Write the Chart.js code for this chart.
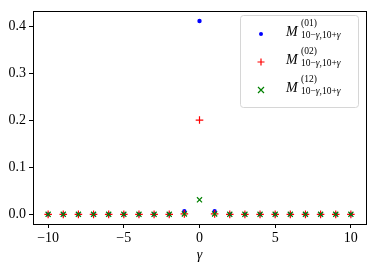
<!DOCTYPE html>
<html><head><meta charset="utf-8">
<script src="https://cdn.jsdelivr.net/npm/chart.js@4/dist/chart.umd.min.js"></script>
<style>html,body{margin:0;padding:0;background:#fff}#wrap{width:374px;height:269px}</style>
</head><body><div id="wrap"><canvas id="c" width="374" height="269"></canvas></div>
<script>
const gammas = [-10,-9,-8,-7,-6,-5,-4,-3,-2,-1,0,1,2,3,4,5,6,7,8,9,10];
const m01 = [0,0,0,0,0,0,0,0,0,0.0065,0.412,0.0065,0,0,0,0,0,0,0,0,0];
const m02 = [0,0,0,0,0,0,0,0,0,0.001,0.201,0.001,0,0,0,0,0,0,0,0,0];
const m12 = [0,0,0,0,0,0,0,0,0,0.0008,0.031,0.0008,0,0,0,0,0,0,0,0,0];
const xTicks = [-10,-5,0,5,10];
const yTicks = [0,0.1,0.2,0.3,0.4];
const legendSup = ['(01)','(02)','(12)'];
const serif = "'Liberation Serif', 'DejaVu Serif', serif";

function pts(arr){ return gammas.map((g,i)=>({x:g,y:arr[i]})); }

const framePlugin = {
  id:'frame',
  afterDatasetsDraw(chart){
    const a = chart.chartArea, ctx = chart.ctx;
    ctx.save();
    ctx.strokeStyle = '#000'; ctx.lineWidth = 1;
    ctx.strokeRect(Math.round(a.left)+0.5, Math.round(a.top)+0.5, Math.round(a.right-a.left), Math.round(a.bottom-a.top));
    // legend
    const bx=240.5, by=15.5, bw=118, bh=92;
    ctx.fillStyle='rgba(255,255,255,0.8)';
    ctx.strokeStyle='#d6d6d6';
    ctx.beginPath();
    ctx.roundRect(bx,by,bw,bh,3);
    ctx.fill(); ctx.stroke();
    const rows=[34,62,90];
    ctx.fillStyle='#0000ff';
    ctx.beginPath(); ctx.arc(261,rows[0],2,0,Math.PI*2); ctx.fill();
    ctx.strokeStyle='#ff0000'; ctx.lineWidth=1.2;
    ctx.beginPath(); ctx.moveTo(257.5,rows[1]); ctx.lineTo(264.5,rows[1]); ctx.moveTo(261,rows[1]-3.5); ctx.lineTo(261,rows[1]+3.5); ctx.stroke();
    ctx.strokeStyle='#008000';
    ctx.beginPath(); ctx.moveTo(258,rows[2]-3); ctx.lineTo(264,rows[2]+3); ctx.moveTo(258,rows[2]+3); ctx.lineTo(264,rows[2]-3); ctx.stroke();
    ctx.fillStyle='#000';
    ctx.textBaseline='alphabetic';
    ctx.textAlign='left';
    rows.forEach((ry,i)=>{
      ctx.font = 'italic 14px '+serif;
      ctx.fillText('M', 286, ry+2);
      ctx.font = '9.5px '+serif;
      ctx.fillText(legendSup[i], 301, ry-8);
      let x=301; const yb=ry+4;
      const parts=[['10−',false],['γ',true],[',10+',false],['γ',true]];
      parts.forEach(([t,it])=>{
        ctx.font=(it?'italic ':'')+'9.5px '+serif;
        ctx.fillText(t,x,yb);
        x+=ctx.measureText(t).width;
      });
    });
    ctx.restore();
  }
};

new Chart(document.getElementById('c'),{
  type:'scatter',
  data:{datasets:[
    {label:'M01', data:pts(m01), backgroundColor:'#0000ff', borderColor:'#0000ff', pointStyle:'circle', pointRadius:2.2, borderWidth:0, order:2},
    {label:'M02', data:pts(m02), backgroundColor:'#ff0000', borderColor:'#ff0000', pointStyle:'cross', pointRadius:3.8, borderWidth:1.2, order:1},
    {label:'M12', data:pts(m12), backgroundColor:'#008000', borderColor:'#008000', pointStyle:'crossRot', pointRadius:3.6, borderWidth:1.2, order:0}
  ]},
  options:{
    responsive:false, animation:false,
    layout:{padding:{left:0,top:7,right:8,bottom:0}},
    plugins:{legend:{display:false},tooltip:{enabled:false}},
    scales:{
      x:{type:'linear',min:-11,max:11,
        afterBuildTicks(s){ s.ticks = xTicks.map(v=>({value:v})); },
        afterFit(s){ s.height=45; },
        grid:{display:true,drawOnChartArea:false,drawTicks:true,tickLength:4,color:'#000'},
        border:{display:true,color:'#000'},
        ticks:{color:'#000',font:{family:serif,size:14},padding:2,maxRotation:0,
          callback:(v)=>String(v).replace('-','−')},
        title:{display:true,text:'γ',color:'#000',font:{family:serif,size:14,style:'italic'},padding:{top:0,bottom:5}}
      },
      y:{type:'linear',min:-0.0206,max:0.4326,
        afterBuildTicks(s){ s.ticks = yTicks.map(v=>({value:v})); },
        afterFit(s){ s.width=33; },
        grid:{display:true,drawOnChartArea:false,drawTicks:true,tickLength:4,color:'#000'},
        border:{display:true,color:'#000'},
        ticks:{color:'#000',font:{family:serif,size:14},padding:3,
          callback:(v)=>Number(v).toFixed(1)}
      }
    }
  },
  plugins:[framePlugin]
});
</script></body></html>
